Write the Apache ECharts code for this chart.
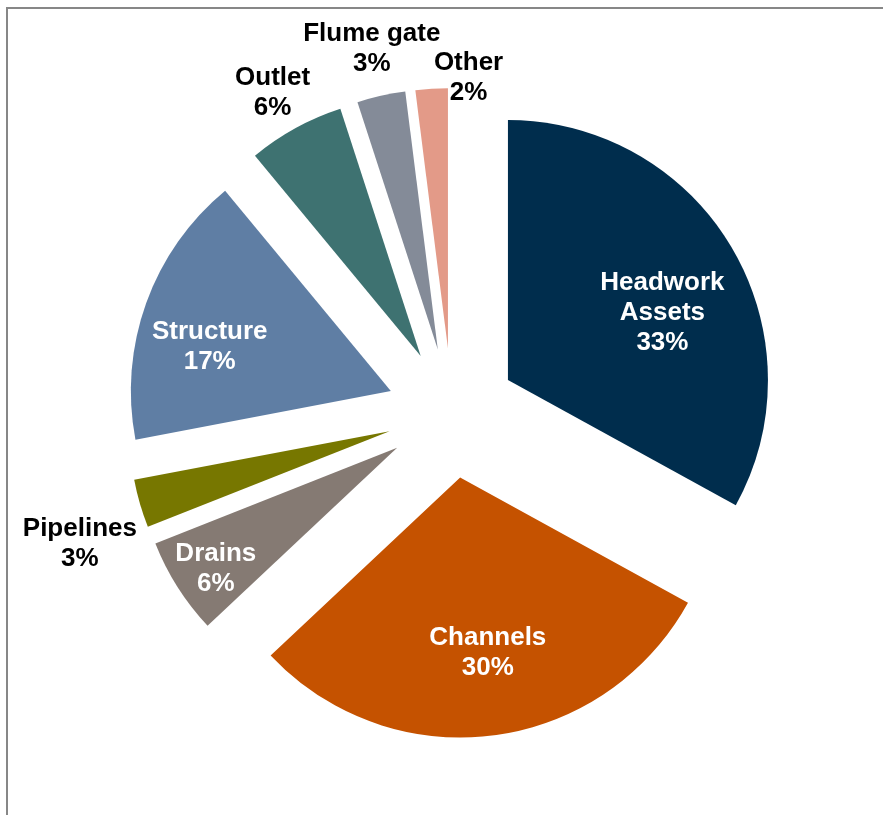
<!DOCTYPE html>
<html>
<head>
<meta charset="utf-8">
<script src="https://cdn.jsdelivr.net/npm/echarts@6/dist/echarts.min.js"></script>
<style>
  html, body { margin: 0; padding: 0; background: #fff; }
  #frame { position: absolute; left: 6px; top: 7px; width: 877px; height: 808px;
           border-left: 2px solid #878787; border-top: 2px solid #878787; box-sizing: border-box; }
  #chart { position: absolute; left: 0; top: 0; width: 883px; height: 815px; }
</style>
</head>
<body>
<div id="frame"></div>
<div id="chart"></div>
<script>
// Asset categories, clockwise from 12 o'clock
const categories = ['Headwork\nAssets', 'Channels', 'Drains', 'Pipelines', 'Structure', 'Outlet', 'Flume gate', 'Other'];
const shares = [33, 30, 6, 3, 17, 6, 3, 2];
const sliceColors = ['#002d4d', '#c55200', '#857a73', '#777700', '#5f7ea4', '#3e7271', '#848b98', '#e39a88'];
// labels drawn on the slice (white) vs beside it (black)
const labelInside = [true, true, true, false, true, false, false, false];
// label nudges from the default in-slice spot
const labelShift = [[40, 1], [11, 43], [-69, 50], [-182, 76], [-56, 1], [-84, -147], [-37, -171], [29, -138]];

const chart = echarts.init(document.getElementById('chart'), null, { renderer: 'canvas' });

const data = categories.map((name, i) => ({
  name: name,
  value: shares[i],
  selected: true,
  itemStyle: { color: sliceColors[i] },
  label: { color: labelInside[i] ? '#ffffff' : '#000000' }
}));

chart.setOption({
  animation: false,
  series: [{
    type: 'pie',
    center: [452, 413],
    radius: [0, 260],
    startAngle: 90,
    clockwise: true,
    selectedMode: 'multiple',
    selectedOffset: 65,
    avoidLabelOverlap: false,
    emphasis: { disabled: true },
    select: { itemStyle: { borderWidth: 0 } },
    itemStyle: { borderWidth: 0 },
    label: {
      show: true,
      position: 'inside',
      formatter: p => p.name + '\n' + p.value + '%',
      fontFamily: 'Liberation Sans',
      fontWeight: 'bold',
      fontSize: 26,
      lineHeight: 30,
      align: 'center'
    },
    labelLine: { show: false },
    labelLayout: p => ({ dx: labelShift[p.dataIndex][0], dy: labelShift[p.dataIndex][1] }),
    data: data
  }]
});
</script>
</body>
</html>
